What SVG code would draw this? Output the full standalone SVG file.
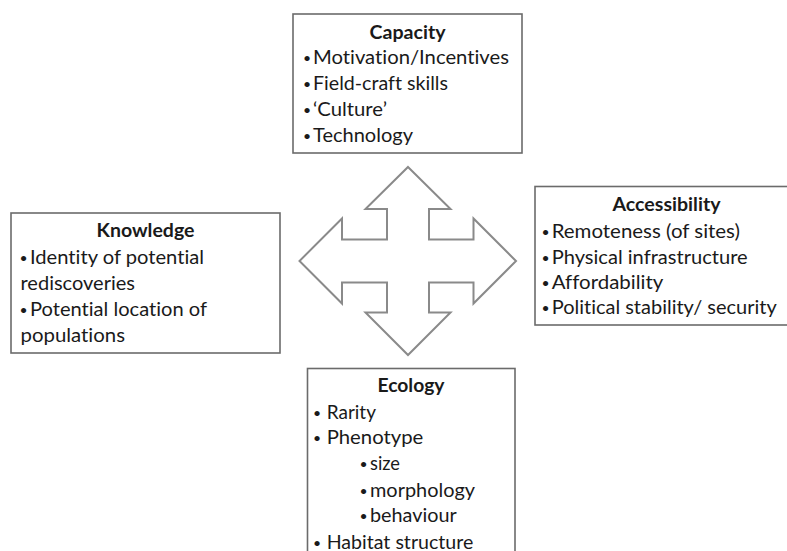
<svg xmlns="http://www.w3.org/2000/svg" width="787" height="551" viewBox="0 0 787 551">
<style>
.box{fill:#fff;stroke:#6b6b6b;stroke-width:1.6}
.arrow{fill:#fff;stroke:#8a8a8a;stroke-width:2;stroke-linejoin:miter}
text{font-family:Lato,"Open Sans","Liberation Sans",sans-serif;font-size:18.5px;fill:#1a1a1a;font-variant-ligatures:none}
.h{font-weight:bold;text-anchor:middle}
.b{font-size:14px}
</style>
<rect width="787" height="551" fill="#fff"/>
<g id="connectors">
<polygon class="arrow" points="408,167 450.5,209 429,209 429,239.5 473.5,239.5 473.5,218.5 516,261 473.5,303.5 473.5,282.5 429,282.5 429,312.5 450.5,312.5 408,355 365.5,312.5 387,312.5 387,282.5 342,282.5 342,303.5 299.5,261 342,218.5 342,239.5 387,239.5 387,209 365.5,209"/>
</g>
<g id="capacity">
<rect class="box" x="293" y="14" width="229" height="139"/>
<text class="h" x="407.5" y="38.5" textLength="76" lengthAdjust="spacingAndGlyphs">Capacity</text>
<text class="b" x="303" y="63">•</text><text x="313" y="64" textLength="196" lengthAdjust="spacingAndGlyphs">Motivation/Incentives</text>
<text class="b" x="303" y="89">•</text><text x="313" y="90" textLength="135" lengthAdjust="spacingAndGlyphs">Field-craft skills</text>
<text class="b" x="303" y="115">•</text><text x="313" y="116" textLength="74" lengthAdjust="spacingAndGlyphs">‘Culture’</text>
<text class="b" x="303" y="141">•</text><text x="313" y="142" textLength="100" lengthAdjust="spacingAndGlyphs">Technology</text>
</g>
<g id="knowledge">
<rect class="box" x="11" y="213" width="269" height="140"/>
<text class="h" x="145.5" y="236.5" textLength="98" lengthAdjust="spacingAndGlyphs">Knowledge</text>
<text class="b" x="19.5" y="263">•</text><text x="30" y="264" textLength="174" lengthAdjust="spacingAndGlyphs">Identity of potential</text>
<text x="20.5" y="289.5" textLength="114.5" lengthAdjust="spacingAndGlyphs">rediscoveries</text>
<text class="b" x="19.5" y="315">•</text><text x="30" y="316" textLength="177" lengthAdjust="spacingAndGlyphs">Potential location of</text>
<text x="20.5" y="341.5" textLength="104.5" lengthAdjust="spacingAndGlyphs">populations</text>
</g>
<g id="accessibility">
<rect class="box" x="535" y="186.5" width="262" height="138.5"/>
<text class="h" x="666.5" y="210.5" textLength="108" lengthAdjust="spacingAndGlyphs">Accessibility</text>
<text class="b" x="541.5" y="237">•</text><text x="551.7" y="238" textLength="188.3" lengthAdjust="spacingAndGlyphs">Remoteness (of sites)</text>
<text class="b" x="541.5" y="263">•</text><text x="551.7" y="264" textLength="196" lengthAdjust="spacingAndGlyphs">Physical infrastructure</text>
<text class="b" x="541.5" y="288">•</text><text x="551.7" y="289" textLength="111.6" lengthAdjust="spacingAndGlyphs">Affordability</text>
<text class="b" x="541.5" y="313">•</text><text x="551.7" y="314" textLength="225" lengthAdjust="spacingAndGlyphs">Political stability/ security</text>
</g>
<g id="ecology">
<rect class="box" x="307.5" y="368.5" width="207.5" height="200"/>
<text class="h" x="411" y="392" textLength="67" lengthAdjust="spacingAndGlyphs">Ecology</text>
<text class="b" x="313" y="417.5">•</text><text x="326.7" y="418.5" textLength="49.3" lengthAdjust="spacingAndGlyphs">Rarity</text>
<text class="b" x="313" y="443">•</text><text x="326.7" y="444" textLength="96.6" lengthAdjust="spacingAndGlyphs">Phenotype</text>
<text class="b" x="359.5" y="469">•</text><text x="370" y="470" textLength="30" lengthAdjust="spacingAndGlyphs">size</text>
<text class="b" x="359.5" y="495.5">•</text><text x="370" y="496.5" textLength="105" lengthAdjust="spacingAndGlyphs">morphology</text>
<text class="b" x="359.5" y="521">•</text><text x="370" y="522" textLength="86.7" lengthAdjust="spacingAndGlyphs">behaviour</text>
<text class="b" x="313" y="547.5">•</text><text x="326.7" y="548.5" textLength="146.6" lengthAdjust="spacingAndGlyphs">Habitat structure</text>
</g>
</svg>
